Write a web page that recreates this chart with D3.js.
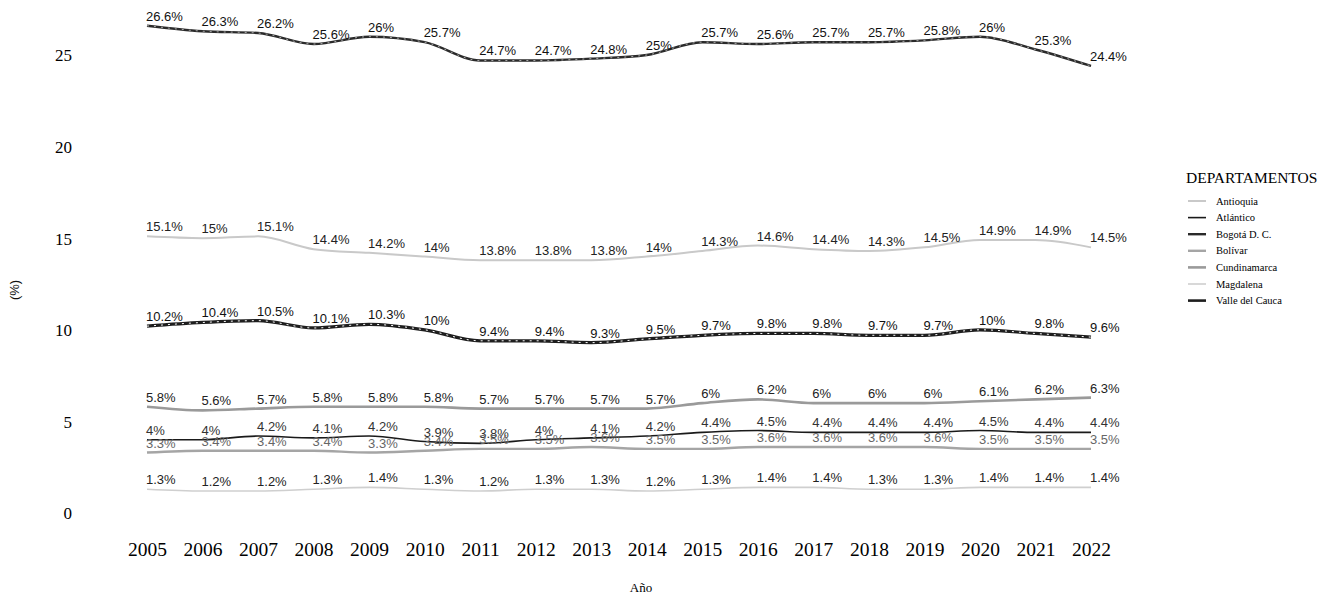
<!DOCTYPE html>
<html>
<head>
<meta charset="utf-8">
<script src="https://cdn.jsdelivr.net/npm/d3@7"></script>
<style>
    body { margin: 0; background: #fff; }
    svg { display: block; }
    .axis text { font-family: "Liberation Serif", "Times New Roman", serif; fill: #000; }
    .lbl { font-family: "Liberation Sans", Arial, sans-serif; font-size: 13px; }
</style>
</head>
<body>
<svg width="1326" height="598"></svg>
<script>
var years = [2005, 2006, 2007, 2008, 2009, 2010, 2011, 2012, 2013, 2014, 2015, 2016, 2017, 2018, 2019, 2020, 2021, 2022];

var antioquia    = [15.1, 15, 15.1, 14.4, 14.2, 14, 13.8, 13.8, 13.8, 14, 14.3, 14.6, 14.4, 14.3, 14.5, 14.9, 14.9, 14.5];
var atlantico    = [4, 4, 4.2, 4.1, 4.2, 3.9, 3.8, 4, 4.1, 4.2, 4.4, 4.5, 4.4, 4.4, 4.4, 4.5, 4.4, 4.4];
var bogota       = [26.6, 26.3, 26.2, 25.6, 26, 25.7, 24.7, 24.7, 24.8, 25, 25.7, 25.6, 25.7, 25.7, 25.8, 26, 25.3, 24.4];
var bolivar      = [3.3, 3.4, 3.4, 3.4, 3.3, 3.4, 3.5, 3.5, 3.6, 3.5, 3.5, 3.6, 3.6, 3.6, 3.6, 3.5, 3.5, 3.5];
var cundinamarca = [5.8, 5.6, 5.7, 5.8, 5.8, 5.8, 5.7, 5.7, 5.7, 5.7, 6, 6.2, 6, 6, 6, 6.1, 6.2, 6.3];
var magdalena    = [1.3, 1.2, 1.2, 1.3, 1.4, 1.3, 1.2, 1.3, 1.3, 1.2, 1.3, 1.4, 1.4, 1.3, 1.3, 1.4, 1.4, 1.4];
var valle        = [10.2, 10.4, 10.5, 10.1, 10.3, 10, 9.4, 9.4, 9.3, 9.5, 9.7, 9.8, 9.8, 9.7, 9.7, 10, 9.8, 9.6];

var yTicks = [0, 5, 10, 15, 20, 25];

(function () {
    var svg = d3.select("svg");

    // series, in legend order
    var series = [
        {id: "Antioquia",       values: antioquia,    color: "#c9c9c9", width: 2,   label: "#222"},
        {id: "Atlántico",       values: atlantico,    color: "#1a1a1a", width: 1.6, label: "#333"},
        {id: "Bogotá D. C.",    values: bogota,       color: "#2a2a2a", width: 2.4, label: "#111"},
        {id: "Bolívar",         values: bolivar,      color: "#a5a5a5", width: 2.4, label: "#666"},
        {id: "Cundinamarca",    values: cundinamarca, color: "#9a9a9a", width: 2.6, label: "#222"},
        {id: "Magdalena",       values: magdalena,    color: "#cfcfcf", width: 1.6, label: "#222"},
        {id: "Valle del Cauca", values: valle,        color: "#1e1e1e", width: 3.2, label: "#111"}
    ];

    var scaleX = d3.scaleLinear().domain([2005, 2022]).range([147, 1091]),
        scaleY = d3.scaleLinear().domain([0, 25]).range([513, 55]);

    var line = d3.line()
        .curve(d3.curveMonotoneX)
        .x(function (d, i) { return scaleX(years[i]); })
        .y(function (d) { return scaleY(d); });

    // axes, no domain lines or ticks
    var axisY = svg.append("g").attr("class", "axis")
        .attr("transform", "translate(80,0)")
        .call(d3.axisLeft(scaleY).tickValues(yTicks).tickSize(0).tickPadding(8).tickFormat(d3.format("d")));
    axisY.select(".domain").remove();
    axisY.selectAll("text").style("font-size", "17px").attr("dy", "0.35em");

    var axisX = svg.append("g").attr("class", "axis")
        .attr("transform", "translate(0,538)")
        .call(d3.axisBottom(scaleX).tickValues(years).tickSize(0).tickPadding(4).tickFormat(d3.format("d")));
    axisX.select(".domain").remove();
    axisX.selectAll("text").style("font-size", "19.5px");

    svg.append("text")
        .attr("transform", "translate(19,290) rotate(-90)")
        .attr("text-anchor", "middle")
        .style("font-family", "Liberation Sans, Arial, sans-serif")
        .style("font-size", "13px")
        .style("fill", "#111")
        .text("(%)");

    svg.append("text")
        .attr("x", 641).attr("y", 592)
        .attr("text-anchor", "middle")
        .style("font-family", "Liberation Serif, serif")
        .style("font-size", "13px")
        .style("fill", "#000")
        .text("Año");

    // lines
    var lines = svg.append("g").selectAll(".serie")
        .data(series)
        .enter().append("g")
        .attr("class", "serie");

    lines.append("path")
        .attr("d", function (d) { return line(d.values); })
        .attr("fill", "none")
        .attr("stroke", function (d) { return d.color; })
        .attr("stroke-width", function (d) { return d.width; });

    // hatched look for Bogotá and Valle
    lines.filter(function (d) { return d.id === "Valle del Cauca" || d.id === "Bogotá D. C."; })
        .append("path")
        .attr("d", function (d) { return line(d.values); })
        .attr("fill", "none")
        .attr("stroke", "#fff")
        .attr("stroke-width", function (d) { return d.id === "Valle del Cauca" ? 1 : 0.6; })
        .attr("stroke-dasharray", "2,5");

    // value labels
    lines.selectAll(".lbl")
        .data(function (d) { return d.values.map(function (v, i) { return {v: v, i: i, color: d.label}; }); })
        .enter().append("text")
        .attr("class", "lbl")
        .attr("x", function (d) { return scaleX(years[d.i]) - 1; })
        .attr("y", function (d) { return scaleY(d.v) - 5; })
        .style("fill", function (d) { return d.color; })
        .text(function (d) { return d3.format("~g")(d.v) + "%"; });

    // legend
    var legend = svg.append("g").attr("transform", "translate(1186,0)");
    legend.append("text")
        .attr("x", 0).attr("y", 183)
        .style("font-family", "Liberation Serif, serif")
        .style("font-size", "15.5px")
        .style("fill", "#000")
        .text("DEPARTAMENTOS");

    var item = legend.selectAll(".item")
        .data(series)
        .enter().append("g")
        .attr("class", "item")
        .attr("transform", function (d, i) { return "translate(0," + (201 + i * 16.6) + ")"; });

    item.append("line")
        .attr("x1", 2).attr("x2", 20)
        .attr("stroke", function (d) { return d.color; })
        .attr("stroke-width", function (d) { return Math.min(d.width, 2.6); });

    item.append("text")
        .attr("x", 30).attr("dy", "0.35em")
        .style("font-family", "Liberation Serif, serif")
        .style("font-size", "10.5px")
        .style("fill", "#000")
        .text(function (d) { return d.id; });
})();
</script>
</body>
</html>
